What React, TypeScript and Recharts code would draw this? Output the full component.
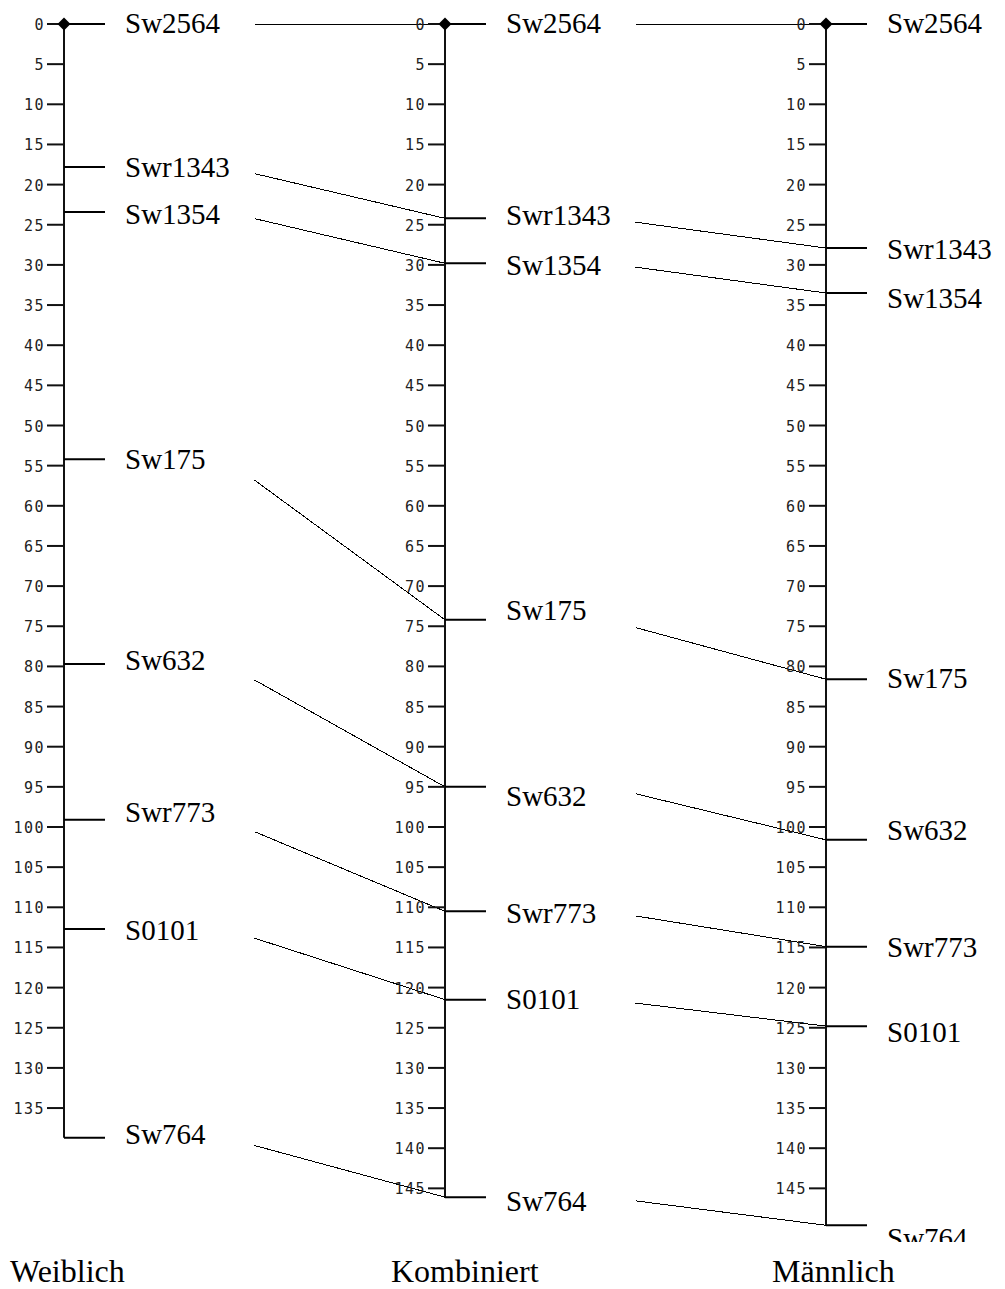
import { ScatterChart, Scatter, XAxis, YAxis, ReferenceLine } from 'recharts';

// Linkage maps: marker positions in cM, one list per map
const MAPS = ['Weiblich', 'Kombiniert', 'Männlich'];
const MARKERS = ['Sw2564', 'Swr1343', 'Sw1354', 'Sw175', 'Sw632', 'Swr773', 'S0101', 'Sw764'];
const weiblichPos = [0, 17.8, 23.4, 54.2, 79.7, 99.1, 112.7, 138.7];
const kombiniertPos = [0, 24.2, 29.8, 74.2, 95.0, 110.5, 121.5, 146.1];
const maennlichPos = [0, 27.9, 33.5, 81.6, 101.6, 114.9, 124.8, 149.6];
const TICKS = [
  0, 5, 10, 15, 20, 25, 30, 35, 40, 45, 50, 55, 60, 65, 70, 75, 80, 85, 90, 95,
  100, 105, 110, 115, 120, 125, 130, 135, 140, 145,
];

// layout only: small vertical nudges of the marker names (px)
const LABEL_SHIFT = [
  [-1, 0, 2, 0, -4, -8, 1, -4],
  [-1, -3, 2, -10, 9, 2, -1, 4],
  [-1, 1, 5, -1, -10, 0, 6, 13],
];

const W = 1005;
const H = 1289;
const AXIS_X0 = 64; // px of first map axis
const MAP_GAP = 381; // px between map axes
const Y0 = 24; // px of 0 cM
const PX_PER_CM = 8.03;

const positions = [weiblichPos, kombiniertPos, maennlichPos];

const tickData = positions.map((pos, i) => {
  const max = pos[pos.length - 1];
  return TICKS.filter((t) => t <= max).map((t) => ({ x: i, y: t }));
});

const markerData = positions.map((pos, i) =>
  pos.map((p, j) => ({ x: i, y: p, name: MARKERS[j], shift: LABEL_SHIFT[i][j] }))
);

const originData = MAPS.map((_, i) => ({ x: i, y: 0 }));

// connector from a map's label side to the next map's marker
const START_X = 0.5;
const START_FRAC = 0.13;

const TickShape = (props: any) => {
  const { cx, cy, payload } = props;
  return (
    <g>
      <line x1={cx - 17} y1={cy} x2={cx} y2={cy} stroke="#111" strokeWidth={2} />
      <text
        x={cx - 19}
        y={cy + 1}
        textAnchor="end"
        dominantBaseline="central"
        fontFamily="DejaVu Sans Mono"
        fontSize={15}
        letterSpacing={1.5}
        fill="#222"
      >
        {payload.y}
      </text>
    </g>
  );
};

const MarkerShape = (props: any) => {
  const { cx, cy, payload } = props;
  return (
    <g>
      <line x1={cx} y1={cy} x2={cx + 41} y2={cy} stroke="#000" strokeWidth={2} />
      <text
        x={cx + 61}
        y={cy + payload.shift}
        dominantBaseline="central"
        fontFamily="Liberation Serif"
        fontSize={29}
        fill="#000"
      >
        {payload.name}
      </text>
    </g>
  );
};

const DiamondShape = (props: any) => {
  const { cx, cy } = props;
  const r = 6.5;
  return (
    <polygon
      points={`${cx},${cy - r} ${cx + r},${cy} ${cx},${cy + r} ${cx - r},${cy}`}
      fill="#000"
    />
  );
};

export default function App() {
  const xDomain = [-AXIS_X0 / MAP_GAP, (W - AXIS_X0) / MAP_GAP];
  const yDomain = [-Y0 / PX_PER_CM, (H - Y0) / PX_PER_CM];

  return (
    <div style={{ position: 'absolute', left: 0, top: 0, width: W, height: H, background: '#fff' }}>
      <ScatterChart width={W} height={H} margin={{ top: 0, right: 0, bottom: 0, left: 0 }}>
        <XAxis type="number" dataKey="x" domain={xDomain} hide allowDataOverflow />
        <YAxis type="number" dataKey="y" domain={yDomain} reversed hide allowDataOverflow />

        {positions.map((pos, i) => (
          <ReferenceLine
            key={`axis-${i}`}
            segment={[
              { x: i, y: 0 },
              { x: i, y: pos[pos.length - 1] },
            ]}
            stroke="#111"
            strokeWidth={2}
          />
        ))}

        {positions.slice(0, 2).map((pos, i) =>
          pos.map((p, j) => {
            const q = positions[i + 1][j];
            return (
              <ReferenceLine
                key={`conn-${i}-${j}`}
                segment={[
                  { x: i + START_X, y: p + (q - p) * START_FRAC },
                  { x: i + 1, y: q },
                ]}
                stroke="#000"
                strokeWidth={1}
                shapeRendering="crispEdges"
              />
            );
          })
        )}

        {tickData.map((d, i) => (
          <Scatter key={`ticks-${i}`} data={d} shape={TickShape} isAnimationActive={false} />
        ))}
        {markerData.map((d, i) => (
          <Scatter key={`markers-${i}`} data={d} shape={MarkerShape} isAnimationActive={false} />
        ))}
        <Scatter data={originData} shape={DiamondShape} isAnimationActive={false} />
      </ScatterChart>

      <div
        style={{
          position: 'absolute',
          left: 0,
          top: 1242,
          width: W,
          height: H - 1242,
          background: '#fff',
          fontFamily: 'Liberation Serif',
          fontSize: 32,
          lineHeight: '32px',
          color: '#000',
        }}
      >
        {MAPS.map((m, i) => (
          <div
            key={m}
            style={{ position: 'absolute', top: 13, left: AXIS_X0 + i * MAP_GAP - 54, whiteSpace: 'nowrap' }}
          >
            {m}
          </div>
        ))}
      </div>
    </div>
  );
}
